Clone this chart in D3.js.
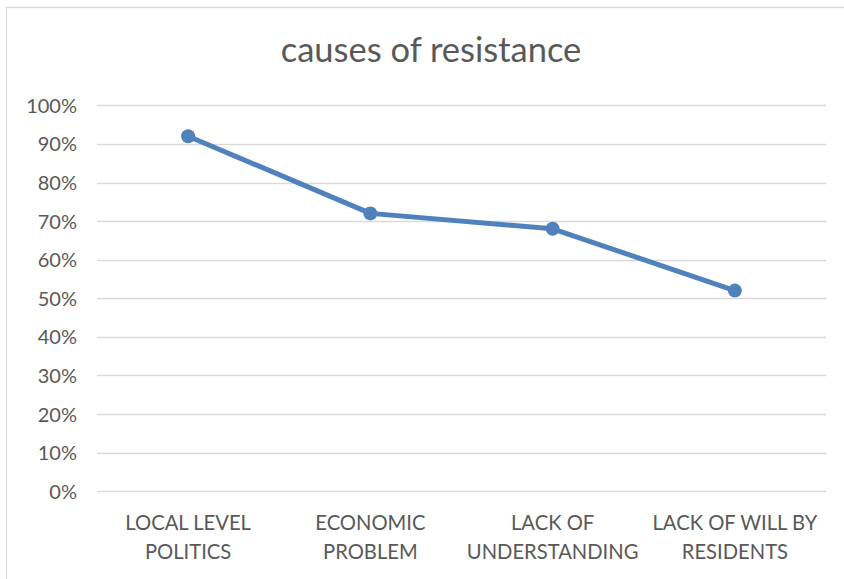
<!DOCTYPE html>
<html><head><meta charset="utf-8">
<script src="https://cdn.jsdelivr.net/npm/d3@7"></script>
<style>html,body{margin:0;padding:0;background:#fff;}svg{display:block;}</style>
</head><body>
<svg id="chart" width="844" height="579"></svg>
<script>
const title = "causes of resistance";
const categories = [["LOCAL LEVEL","POLITICS"],["ECONOMIC","PROBLEM"],["LACK OF","UNDERSTANDING"],["LACK OF WILL BY","RESIDENTS"]];
const values = [0.92, 0.72, 0.68, 0.52];
const yTicks = [0,0.1,0.2,0.3,0.4,0.5,0.6,0.7,0.8,0.9,1.0];

const font = "Lato, 'Open Sans', sans-serif";
const textColor = "#595959";
const gridColor = "#D9D9D9";
const lineColor = "#4F81BD";

const svg = d3.select("#chart");
// outer chart border
svg.append("rect").attr("x",6.5).attr("y",7.5).attr("width",900).attr("height",700)
  .attr("fill","#fff").attr("stroke",gridColor).attr("stroke-width",1.3);

const plotL = 97, plotR = 826, plotT = 105.3, plotB = 491.3;
const x = d3.scaleBand().domain(categories.map((d,i)=>i)).range([plotL,plotR]);
const y = d3.scaleLinear().domain([0,1]).range([plotB,plotT]);

// title
svg.append("text").attr("x",431).attr("y",62).attr("text-anchor","middle")
  .attr("font-family",font).attr("font-size",34.5).attr("fill",textColor).text(title);

// gridlines
svg.append("g").selectAll("line").data(yTicks).join("line")
  .attr("x1",plotL).attr("x2",plotR)
  .attr("y1",d=>Math.round(y(d))+0.5).attr("y2",d=>Math.round(y(d))+0.5)
  .attr("stroke",gridColor).attr("stroke-width",1.5);

// y axis labels
const yAxis = d3.axisLeft(y).tickValues(yTicks).tickFormat(d3.format(".0%")).tickSize(0).tickPadding(0);
const gy = svg.append("g").attr("transform",`translate(77,0)`).call(yAxis);
gy.select(".domain").remove();
gy.selectAll("text").attr("font-family",font).attr("font-size",20).attr("fill",textColor).attr("dy","0.35em");

// x labels
const xl = svg.append("g").selectAll("text").data(categories).join("text")
  .attr("x",(d,i)=>x(i)+x.bandwidth()/2).attr("y",530)
  .attr("text-anchor","middle").attr("font-family",font).attr("font-size",20.2).attr("fill",textColor);
xl.each(function(d){
  const t = d3.select(this);
  d.forEach((ln,j)=>t.append("tspan").attr("x",t.attr("x")).attr("dy",j?29:0).text(ln));
});

// line
const line = d3.line().x((d,i)=>x(i)+x.bandwidth()/2).y(d=>y(d));
svg.append("path").datum(values).attr("d",line).attr("fill","none")
  .attr("stroke",lineColor).attr("stroke-width",5).attr("stroke-linejoin","round");
svg.append("g").selectAll("circle").data(values).join("circle")
  .attr("cx",(d,i)=>x(i)+x.bandwidth()/2).attr("cy",d=>y(d)).attr("r",7).attr("fill",lineColor);
</script>
</body></html>
